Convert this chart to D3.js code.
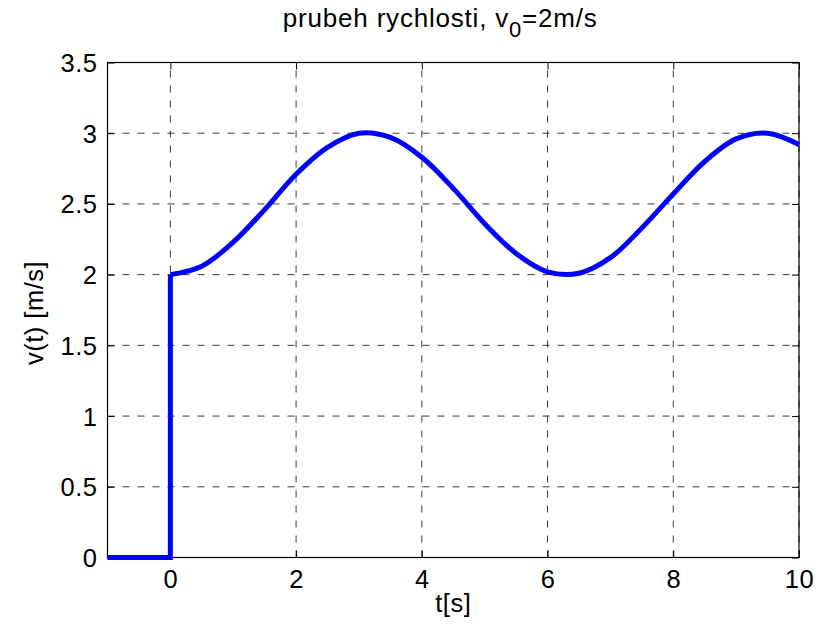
<!DOCTYPE html>
<html>
<head>
<meta charset="utf-8">
<script src="https://cdn.jsdelivr.net/npm/d3@7"></script>
<style>
  html, body { margin: 0; padding: 0; background: #fff; }
  svg text { font-family: "Liberation Sans", Arial, sans-serif; fill: #000; }
</style>
</head>
<body>
<svg id="chart" width="828" height="626"></svg>
<script>
// velocity before the start (step from 0 up to v0)
const stepT = [-1, 0, 0];
const stepV = [0, 0, 2];

// velocity after the start, t in seconds, v in m/s
const timeT = [0, 0.5, 1, 1.5, 2, 2.5, 3, 3.5, 4, 4.5, 5, 5.5, 6, 6.5, 7, 7.5, 8, 8.5, 9, 9.5, 10];
const speedV = [2.00, 2.06, 2.23, 2.46, 2.71, 2.90, 3.00, 2.97, 2.83, 2.61, 2.36, 2.15, 2.02, 2.01, 2.12, 2.33, 2.57, 2.80, 2.96, 3.00, 2.92];

const xTicks = [0, 2, 4, 6, 8, 10];
const yTicks = [0, 0.5, 1, 1.5, 2, 2.5, 3, 3.5];

const svg = d3.select("#chart");
const L = 107.5, R = 799, T = 62.5, B = 557.5;
const FS = 25.5;

const x = d3.scaleLinear().domain([-1, 10]).range([L, R]);
const y = d3.scaleLinear().domain([0, 3.5]).range([B, T]);

svg.append("rect").attr("width", 828).attr("height", 626).attr("fill", "#fff");

// grid
const grid = svg.append("g").attr("stroke", "#000").attr("stroke-width", 0.9)
  .attr("stroke-dasharray", "7,8").attr("opacity", 0.85);
xTicks.forEach(t => {
  grid.append("line").attr("x1", x(t)).attr("x2", x(t)).attr("y1", B).attr("y2", T);
});
yTicks.forEach(v => {
  grid.append("line").attr("x1", L).attr("x2", R).attr("y1", y(v)).attr("y2", y(v));
});

// axes with inward ticks on all sides
const tl = 7;
const axB = svg.append("g").attr("transform", `translate(0,${B})`)
  .call(d3.axisBottom(x).tickValues(xTicks).tickSize(-tl).tickPadding(12).tickFormat(d3.format("")));
const axT = svg.append("g").attr("transform", `translate(0,${T})`)
  .call(d3.axisTop(x).tickValues(xTicks).tickSize(-tl).tickFormat(""));
const axL = svg.append("g").attr("transform", `translate(${L},0)`)
  .call(d3.axisLeft(y).tickValues(yTicks).tickSize(-tl).tickPadding(10).tickFormat(d3.format("")));
const axR = svg.append("g").attr("transform", `translate(${R},0)`)
  .call(d3.axisRight(y).tickValues(yTicks).tickSize(-tl).tickFormat(""));
[axB, axT, axL, axR].forEach(a => {
  a.attr("font-size", FS).attr("font-family", '"Liberation Sans", Arial, sans-serif');
  a.select(".domain").remove();
  a.selectAll("line").attr("stroke", "#000").attr("stroke-width", 1);
  a.selectAll("text").style("font-size", FS + "px").style("letter-spacing", "0.5px");
});
axL.selectAll("text").attr("dy", "0.35em");

// plot box
svg.append("rect").attr("x", L).attr("y", T).attr("width", R - L).attr("height", B - T)
  .attr("fill", "none").attr("stroke", "#000").attr("stroke-width", 1.2);

// velocity curve
const stepData = stepT.map((t, i) => [t, stepV[i]]);
const mainData = timeT.map((t, i) => [t, speedV[i]]);
const lineStep = d3.line().x(d => x(d[0])).y(d => y(d[1]));
const lineMain = d3.line().x(d => x(d[0])).y(d => y(d[1])).curve(d3.curveCatmullRom.alpha(0.5));
svg.append("path").attr("d", lineStep(stepData)).attr("fill", "none")
  .attr("stroke", "#0000ff").attr("stroke-width", 5).attr("stroke-linejoin", "miter");
svg.append("path").attr("d", lineMain(mainData)).attr("fill", "none")
  .attr("stroke", "#0000ff").attr("stroke-width", 5).attr("stroke-linejoin", "round");

// title
const title = svg.append("text").attr("x", (L + R) / 2 - 13).attr("y", 27)
  .attr("text-anchor", "middle").style("font-size", "26px").style("letter-spacing", "0.8px");
title.append("tspan").text("prubeh rychlosti, v");
title.append("tspan").style("font-size", "22px").attr("dy", 10).text("0");
title.append("tspan").attr("dy", -10).text("=2m/s");

// axis labels
svg.append("text").attr("x", (L + R) / 2).attr("y", 612).attr("text-anchor", "middle")
  .style("font-size", FS + "px").style("letter-spacing", "0.5px").text("t[s]");
svg.append("text").attr("transform", `translate(43,${(T + B) / 2 + 3}) rotate(-90)`)
  .attr("text-anchor", "middle").style("font-size", FS + "px").style("letter-spacing", "0.5px")
  .text("v(t) [m/s]");
</script>
</body>
</html>
